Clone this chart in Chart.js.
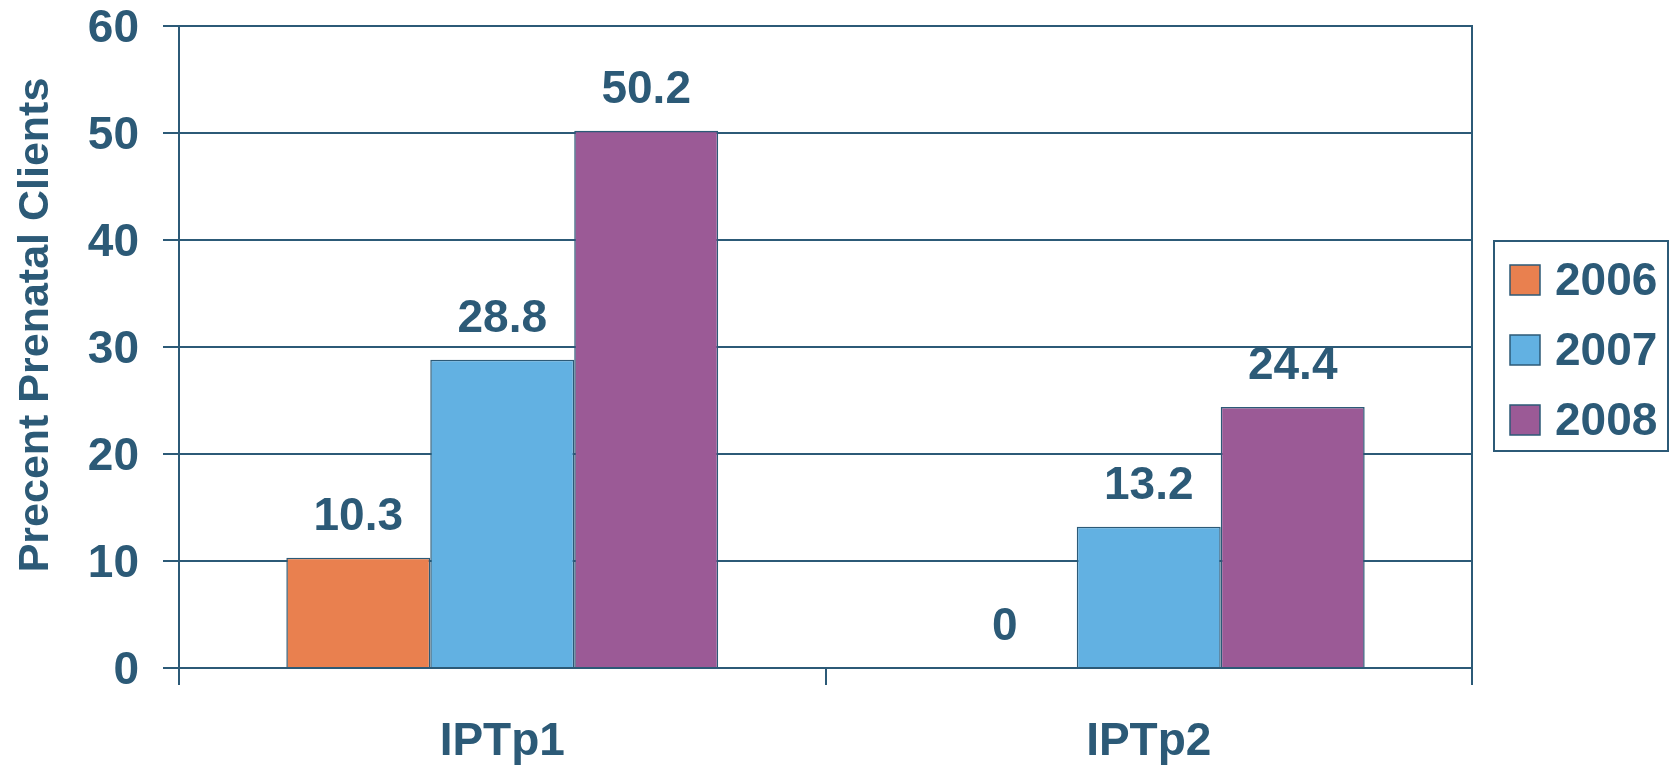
<!DOCTYPE html>
<html>
<head>
<meta charset="utf-8">
<script src="https://cdn.jsdelivr.net/npm/chart.js@4.4.1/dist/chart.umd.min.js"></script>
<style>
  html, body { margin: 0; padding: 0; background: #fff; }
  #wrap { width: 1671px; height: 770px; }
</style>
</head>
<body>
<div id="wrap"><canvas id="chart" width="1671" height="770"></canvas></div>
<script>
const categories = ['IPTp1', 'IPTp2'];
const years = ['2006', '2007', '2008'];
const values2006 = [10.3, 0];
const values2007 = [28.8, 13.2];
const values2008 = [50.2, 24.4];
const yTicks = [0, 10, 20, 30, 40, 50, 60];

const ink = '#2c5a77';
const font = 'Liberation Sans, Arial, sans-serif';

// value labels above each bar
const barValues = {
  id: 'barValues',
  afterDatasetsDraw(chart) {
    const ctx = chart.ctx;
    ctx.save();
    ctx.fillStyle = ink;
    ctx.font = 'bold 46px ' + font;
    ctx.textAlign = 'center';
    ctx.textBaseline = 'alphabetic';
    chart.data.datasets.forEach((ds, i) => {
      chart.getDatasetMeta(i).data.forEach((bar, j) => {
        ctx.fillText(String(ds.data[j]), bar.x, bar.y - 28);
      });
    });
    ctx.restore();
  }
};

// boxed legend on the right, and the rotated y title
const sideBits = {
  id: 'sideBits',
  afterDraw(chart) {
    const ctx = chart.ctx;
    const area = chart.chartArea;
    ctx.save();

    const bx = area.right + 22, by = 241, bw = 174, bh = 210;
    ctx.strokeStyle = ink;
    ctx.lineWidth = 2;
    ctx.strokeRect(bx, by, bw, bh);

    ctx.font = 'bold 46px ' + font;
    ctx.textBaseline = 'middle';
    ctx.textAlign = 'left';
    chart.data.datasets.forEach((ds, i) => {
      const cy = by + 39 + i * 70;
      ctx.fillStyle = ds.backgroundColor;
      ctx.fillRect(bx + 16, cy - 15, 30, 30);
      ctx.lineWidth = 1.5;
      ctx.strokeRect(bx + 16, cy - 15, 30, 30);
      ctx.fillStyle = ink;
      ctx.fillText(ds.label, bx + 61, cy + 2);
    });

    ctx.translate(36, 325);
    ctx.rotate(-Math.PI / 2);
    ctx.textAlign = 'center';
    ctx.font = 'bold 43px ' + font;
    ctx.fillText('Precent Prenatal Clients', 0, 0);
    ctx.restore();
  }
};

new Chart(document.getElementById('chart'), {
  type: 'bar',
  data: {
    labels: categories,
    datasets: [
      { label: years[0], data: values2006, backgroundColor: '#e9804f' },
      { label: years[1], data: values2007, backgroundColor: '#62b1e2' },
      { label: years[2], data: values2008, backgroundColor: '#9b5a96' }
    ]
  },
  options: {
    responsive: false,
    animation: false,
    layout: { padding: { left: 0, right: 199, top: 26, bottom: 0 } },
    datasets: {
      bar: {
        borderColor: ink,
        borderWidth: 1.5,
        categoryPercentage: 0.668,
        barPercentage: 1
      }
    },
    plugins: {
      legend: { display: false },
      tooltip: { enabled: false }
    },
    scales: {
      x: {
        grid: {
          offset: true,
          drawOnChartArea: false,
          drawTicks: true,
          tickLength: 17,
          color: ink,
          lineWidth: 2
        },
        border: { display: true, color: ink, width: 2 },
        ticks: {
          color: ink,
          padding: 30,
          font: { family: font, size: 46, weight: 'bold' }
        },
        afterFit(scale) { scale.height = 102; scale.paddingLeft = 0; scale.paddingRight = 0; }
      },
      y: {
        min: 0,
        max: 60,
        afterBuildTicks(scale) { scale.ticks = yTicks.map(v => ({ value: v })); },
        grid: { color: ink, lineWidth: 2, tickLength: 16 },
        border: { display: true, color: ink, width: 2 },
        ticks: {
          color: ink,
          padding: 24,
          labelOffset: 3,
          font: { family: font, size: 46, weight: 'bold', lineHeight: 1.1 }
        },
        afterFit(scale) { scale.width = 179; scale.paddingTop = 0; scale.paddingBottom = 0; }
      },
      yRight: {
        position: 'right',
        min: 0,
        max: 60,
        grid: { display: false },
        border: { display: true, color: ink, width: 2 },
        ticks: { display: false },
        afterFit(scale) { scale.width = 0; }
      }
    }
  },
  plugins: [barValues, sideBits]
});
</script>
</body>
</html>
